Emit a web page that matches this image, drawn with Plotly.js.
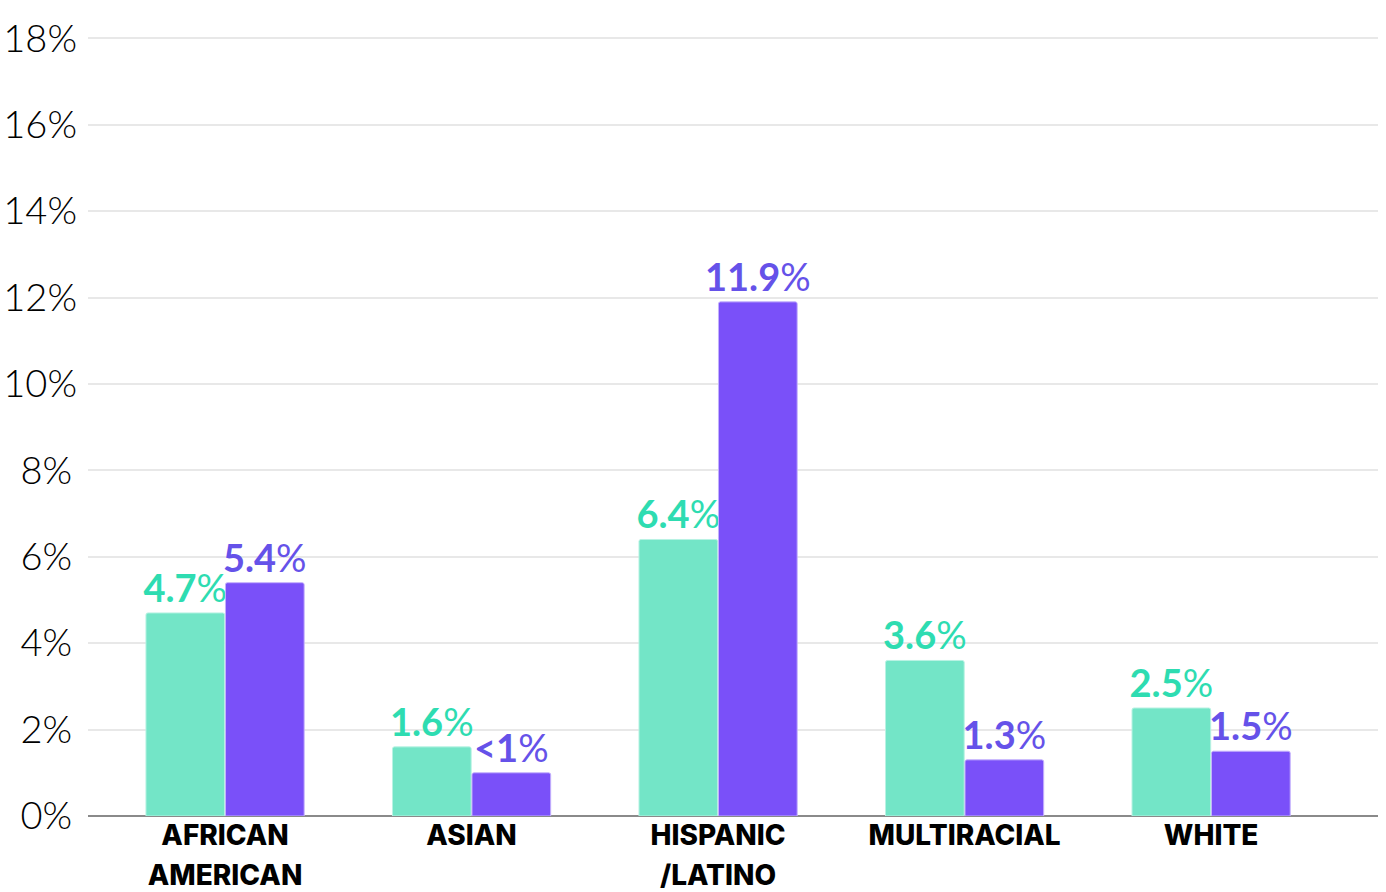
<!DOCTYPE html>
<html>
<head>
<meta charset="utf-8">
<script src="https://cdn.plot.ly/plotly-3.0.1.min.js"></script>
<style>html,body{margin:0;padding:0;background:#fff;}#chart{width:1386px;height:892px;}</style>
</head>
<body>
<div id="chart"></div>
<script>
const categoriesLine1 = ["AFRICAN", "ASIAN", "HISPANIC", "MULTIRACIAL", "WHITE"];
const categoriesLine2 = ["AMERICAN", "", "/LATINO", "", ""];
const seriesA = [4.7, 1.6, 6.4, 3.6, 2.5];
const seriesB = [5.4, 1.0, 11.9, 1.3, 1.5];
const labelsA = ["4.7", "1.6", "6.4", "3.6", "2.5"];
const labelsB = ["5.4", "<1", "11.9", "1.3", "1.5"];
const tickVals = [0, 2, 4, 6, 8, 10, 12, 14, 16, 18];
const tickText = ["0%", "2%", "4%", "6%", "8%", "10%", "12%", "14%", "16%", "18%"];

const fmt = (s) => "<b>" + s.replace("<", "&lt;") + "</b>" + "%";
const xIdx = categoriesLine1.map((_, i) => i);
// single-digit labels get a thin trailing space so they sit more centred, as in the original
const yTickText = tickText.map(t => t.length < 3 ? t + "\u2009" : t);

const common = {
  type: "bar",
  x: xIdx,
  textposition: "outside",
  constraintext: "none",
  cliponaxis: false,
  hoverinfo: "none",
  textfont: {family: "Lato, 'DejaVu Sans', sans-serif", size: 38}
};

const traceA = Object.assign({}, common, {
  name: "Series A",
  y: seriesA,
  text: labelsA.map(fmt),
  marker: {color: "#73e5c7", line: {color: "#b9f2e3", width: 1}},
  textfont: Object.assign({}, common.textfont, {color: "#2edcb1"})
});
const traceB = Object.assign({}, common, {
  name: "Series B",
  y: seriesB,
  text: labelsB.map(fmt),
  marker: {color: "#7a50f9", line: {color: "#c4b1fc", width: 1}},
  textfont: Object.assign({}, common.textfont, {color: "#6552e9"})
});
// invisible trace on the second x axis so it is drawn (carries the second line of the category labels)
const traceLine2 = {
  type: "scatter", mode: "none", x: xIdx, y: seriesA.map(() => 0),
  xaxis: "x2", yaxis: "y", hoverinfo: "none", showlegend: false
};

const catFont = {family: "Inter, 'DejaVu Sans', sans-serif", size: 28, color: "#000", weight: 800};
const xRange = [-0.556, 4.677];

const layout = {
  width: 1386, height: 892,
  margin: {l: 88, r: 8, t: 37, b: 76, pad: 0},
  paper_bgcolor: "#ffffff", plot_bgcolor: "#ffffff",
  showlegend: false,
  barmode: "group",
  bargap: 0.355,
  bargroupgap: 0.01,
  barcornerradius: 2,
  xaxis: {
    tickmode: "array", tickvals: xIdx, ticktext: categoriesLine1,
    range: xRange,
    showgrid: false, zeroline: false, showline: false, ticks: "",
    tickfont: catFont,
    fixedrange: true
  },
  xaxis2: {
    overlaying: "x", anchor: "y", side: "bottom",
    tickmode: "array", tickvals: xIdx, ticktext: categoriesLine2,
    range: xRange,
    showgrid: false, zeroline: false, showline: false, ticks: "",
    ticklabelstandoff: 40,
    tickfont: catFont,
    fixedrange: true
  },
  yaxis: {
    range: [0, 18.03],
    tickmode: "array", tickvals: tickVals, ticktext: yTickText,
    showgrid: true, gridcolor: "#e8e8e8", gridwidth: 2,
    zeroline: true, zerolinecolor: "#8a8a8a", zerolinewidth: 2,
    showline: false, ticks: "",
    ticklabelstandoff: 10,
    tickfont: {family: "Lato, 'DejaVu Sans', sans-serif", size: 38, color: "#000", weight: 300},
    fixedrange: true
  },
  font: {family: "Lato, sans-serif"}
};

Plotly.newPlot("chart", [traceA, traceB, traceLine2], layout, {displayModeBar: false, staticPlot: true});
</script>
</body>
</html>
